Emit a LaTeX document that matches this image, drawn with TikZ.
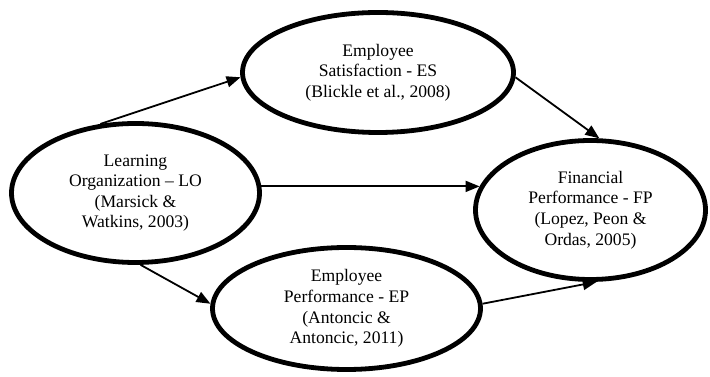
\documentclass[tikz,border=0pt]{standalone}
\usepackage{fontspec}
\setmainfont{Liberation Serif}
\usetikzlibrary{shapes.geometric,arrows.meta}

\tikzset{
  construct/.style={ellipse, draw, line width=4.8pt, inner sep=0pt,
    align=center, font=\fontsize{17.6}{20.6}\selectfont},
  link/.style={line width=1.8pt, -{Triangle[length=14pt,width=11pt]}}
}

\begin{document}
\begin{tikzpicture}[x=1pt, y=1pt]
\useasboundingbox (0,0) rectangle (710,377);

\node[construct, minimum width=248pt, minimum height=139pt] (LO) at (135.5,184)
  {Learning\\Organization – LO\\(Marsick \&\\Watkins, 2003)};
\node[construct, minimum width=271pt, minimum height=120pt] (ES) at (378,304.5)
  {Employee\\Satisfaction - ES\\(Blickle et al., 2008)};
\node[construct, minimum width=268pt, minimum height=122pt] (EP) at (346.5,68.5)
  {Employee\\Performance - EP\\(Antoncic \&\\Antoncic, 2011)};
\node[construct, minimum width=230pt, minimum height=139pt] (FP) at (590.5,167)
  {Financial\\Performance - FP\\(Lopez, Peon \&\\Ordas, 2005)};

% paths of the model
\draw[link] (LO.117) -- (ES.182);
\draw[link] (ES.-2) -- (FP.83);
\draw[link] (LO.3) -- (LO.3 -| FP.168);
\draw[link] (LO.-86) -- (EP.178);
\draw[link] (EP.2) -- (FP.-85);
\end{tikzpicture}
\end{document}
